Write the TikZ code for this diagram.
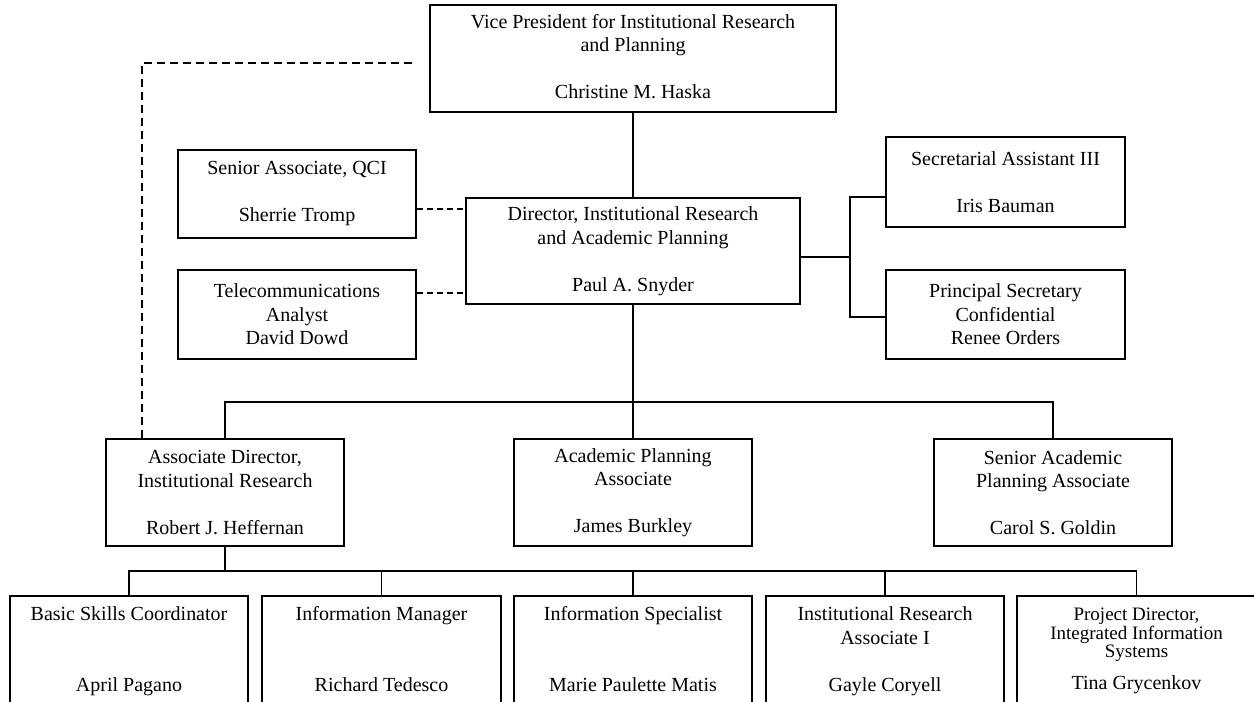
\documentclass[tikz,border=0pt]{standalone}
\usepackage{fontspec}
\setmainfont{Liberation Serif}
\usetikzlibrary{calc}
\tikzset{
  orgbox/.style={draw, line width=1.6pt, align=center, inner sep=0pt,
    font=\fontsize{20}{23.5}\selectfont},
  link/.style={line width=1.3pt},
  dotlink/.style={line width=2pt, dash pattern=on 6pt off 4pt},
  staff/.style={line width=2pt, dash pattern=on 8pt off 5pt},
}
\newcommand{\blankline}{\mbox{}}
\newcommand{\withdepth}{\vphantom{g}}
\begin{document}
\begin{tikzpicture}[x=1pt,y=-1pt]
\useasboundingbox (0,0) rectangle (1254,702);
\fill[white] (0,0) rectangle (1254,702);

% top of the chart
\node[orgbox, minimum width=406pt, minimum height=107pt] (vp) at (633,58.5)
  {Vice President for Institutional Research\\and Planning\\\blankline\\Christine M. Haska\withdepth};
\node[orgbox, minimum width=334pt, minimum height=106pt] (dir) at (633,251)
  {Director, Institutional Research\\and Academic Planning\\\blankline\\Paul A. Snyder};

% staff positions
\node[orgbox, minimum width=238pt, minimum height=88pt] (sqci) at (297,194)
  {Senior Associate, QCI\\\blankline\\Sherrie Tromp};
\node[orgbox, minimum width=238pt, minimum height=89pt] (tele) at (297,314.5)
  {Telecommunications\\Analyst\\David Dowd};
\node[orgbox, minimum width=239pt, minimum height=90pt] (sec) at (1005.5,182)
  {Secretarial Assistant III\\\blankline\\Iris Bauman};
\node[orgbox, minimum width=239pt, minimum height=89pt] (psec) at (1005.5,314.5)
  {Principal Secretary\\Confidential\\Renee Orders};

% second level
\node[orgbox, minimum width=238pt, minimum height=107pt] (ad) at (225,492.5)
  {Associate Director,\\Institutional Research\\\blankline\\Robert J. Heffernan};
\node[orgbox, minimum width=238pt, minimum height=107pt] (apa) at (633,492.5)
  {Academic Planning\\Associate\\\blankline\\James Burkley};
\node[orgbox, minimum width=238pt, minimum height=107pt] (sapa) at (1053,492.5)
  {Senior Academic\\Planning Associate\\\blankline\\Carol S. Goldin};

% third level (boxes run past the lower edge)
\node[orgbox, minimum width=238pt, minimum height=110pt] (b1) at (129,651)
  {Basic Skills Coordinator\\\blankline\\\blankline\\April Pagano};
\node[orgbox, minimum width=239pt, minimum height=110pt] (b2) at (381.5,651)
  {Information Manager\\\blankline\\\blankline\\Richard Tedesco\withdepth};
\node[orgbox, minimum width=238pt, minimum height=110pt] (b3) at (633,651)
  {Information Specialist\\\blankline\\\blankline\\Marie Paulette Matis\withdepth};
\node[orgbox, minimum width=238pt, minimum height=110pt] (b4) at (885,651)
  {Institutional Research\\Associate I\\\blankline\\Gayle Coryell};
\node[orgbox, minimum width=239pt, minimum height=110pt, font=\fontsize{19}{18.7}\selectfont]
  (b5) at (1136.5,651)
  {Project Director,\\Integrated Information\\Systems\\[13pt]{\fontsize{20}{23.5}\selectfont Tina Grycenkov}};

% line of authority
\draw[link] (vp.south) -- (dir.north);

% secretaries
\coordinate (brk) at (850,257);
\draw[link] ($(dir.east)+(0,6)$) -- (brk);
\draw[link] ($(sec.west)+(0,15)$) -| (brk) |- ($(psec.west)+(0,2.5)$);

% staff links
\draw[dotlink] ($(sqci.east)+(0,15)$) -- ($(dir.west)+(0,-42)$);
\draw[dotlink] ($(tele.east)+(0,-21.5)$) -- ($(dir.west)+(0,42)$);

% dotted reporting line to the vice president
\coordinate (vpdash) at (412,63);
\coordinate (dcorner) at (142,63);
\draw[staff] (vpdash) -- (dcorner) -- (dcorner |- ad.north);

% director to second level
\coordinate (bus1) at (633,402);
\draw[link] (dir.south) -- (apa.north);
\draw[link] (ad.north) |- (bus1) -| (sapa.north);

% associate director to third level
\coordinate (bus2) at (225,571);
\draw[link] (ad.south) -- (bus2);
\draw[link] (b1.north) |- (bus2) -| (b5.north);
\draw[link] (b2.north) -- (b2.north |- bus2);
\draw[link] (b3.north) -- (b3.north |- bus2);
\draw[link] (b4.north) -- (b4.north |- bus2);
\end{tikzpicture}
\end{document}
